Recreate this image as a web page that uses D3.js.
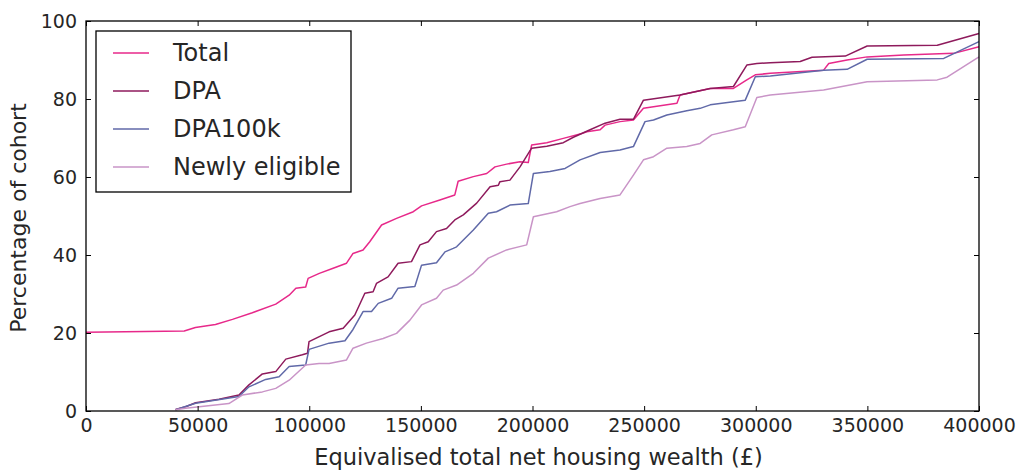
<!DOCTYPE html>
<html>
<head>
<meta charset="utf-8">
<script src="https://cdn.jsdelivr.net/npm/d3@7"></script>
<style>
  body { margin: 0; background: #fff; }
  text { font-family: "DejaVu Sans", sans-serif; fill: #262626; }
</style>
</head>
<body>
<div class="chart"></div>
<script>
// series values: [wealth (£), % of cohort]
var total = [[0,20.2],[44000,20.5],[49000,21.4],[58000,22.2],[65600,23.5],[74500,25.2],[85000,27.4],
    [91000,29.7],[94000,31.5],[98400,31.8],[99500,34.0],[104500,35.3],[110700,36.6],[116700,37.9],
    [119600,40.4],[124100,41.3],[127100,43.4],[132400,47.7],[139100,49.4],[146600,51.1],[150300,52.6],
    [158500,54.1],[165200,55.4],[166700,58.9],[173500,60.1],[179500,60.9],[183200,62.6],[188400,63.3],
    [194400,63.9],[198100,63.7],[199600,68.2],[206400,68.8],[213800,69.9],[221300,71.0],[224300,71.6],
    [230300,72.1],[232500,73.3],[239200,74.2],[245200,74.6],[249700,77.6],[264700,78.9],[266100,81.0],
    [279600,82.7],[290000,82.7],[296000,84.9],[299800,86.2],[306500,86.6],[330400,87.4],[332700,89.1],
    [340900,90.0],[349900,90.8],[366300,91.3],[388700,91.7],[400000,93.4]];

var dpa = [[40100,0.4],[44600,1.1],[49100,2.1],[59600,3.0],[68500,4.1],[73000,6.7],[79000,9.5],
    [85000,10.1],[89500,13.3],[96900,14.4],[99200,14.8],[99900,17.8],[108900,20.3],[115200,21.2],
    [120400,24.6],[124900,30.2],[128600,30.6],[130100,32.7],[135300,34.4],[139800,37.9],[145800,38.3],
    [149600,42.6],[153300,43.4],[157000,46.0],[161500,46.8],[165200,49.0],[169000,50.3],[175000,53.3],
    [181000,57.5],[184700,57.9],[185400,58.8],[189900,59.2],[194400,62.6],[199600,67.4],[206400,67.9],
    [213800,68.8],[218300,70.2],[225800,72.1],[232500,73.8],[239200,74.8],[245200,74.8],[249700,79.7],
    [266100,81.0],[279600,82.7],[290000,83.2],[296000,88.7],[300500,89.1],[306500,89.3],[319900,89.6],
    [325200,90.7],[340100,91.0],[349900,93.6],[381300,93.8],[400000,96.8]];

var dpa100k = [[40100,0.3],[49100,2.0],[68500,3.7],[73000,6.2],[80500,8.1],[86500,8.8],[91000,11.4],
    [98400,11.8],[99900,15.8],[108900,17.4],[116000,18.0],[119600,20.9],[124100,25.5],[127900,25.5],
    [130900,27.6],[136900,28.9],[139800,31.5],[147300,31.9],[150300,37.4],[157000,38.0],[160800,40.8],
    [164500,41.7],[166000,42.1],[173500,46.4],[180200,50.7],[183900,51.1],[189900,52.8],[198100,53.2],
    [200400,60.9],[207800,61.4],[214600,62.2],[221300,64.4],[230300,66.3],[239200,66.9],[245200,67.8],
    [250400,74.2],[254200,74.6],[260200,75.9],[269100,77.0],[275100,77.6],[279600,78.5],[290000,79.3],
    [295300,79.7],[299800,85.7],[306500,85.9],[330400,87.4],[340900,87.6],[349900,90.2],[384200,90.4],
    [400000,94.7]];

var newlyEligible = [[40100,0.3],[44600,0.7],[64000,1.9],[70000,4.1],[79000,4.9],[85000,5.8],
    [91000,7.9],[98400,11.8],[104400,12.2],[108900,12.2],[116700,13.1],[119600,16.1],[125600,17.4],
    [133100,18.6],[139100,19.9],[145100,23.3],[150300,27.2],[157000,28.9],[160000,31.0],[166000,32.3],
    [173500,35.3],[180200,39.2],[188400,41.3],[197400,42.6],[200400,49.8],[210800,51.1],[216800,52.4],
    [221300,53.2],[230300,54.5],[239200,55.4],[245200,60.5],[249700,64.4],[254200,65.2],[260200,67.4],
    [269100,67.8],[275100,68.6],[280300,70.8],[290000,72.1],[295300,72.9],[300500,80.4],[306500,81.0],
    [330400,82.3],[349900,84.4],[381300,84.9],[385700,85.6],[400000,90.8]];

var seriesNames = ['Total', 'DPA', 'DPA100k', 'Newly eligible'];
var seriesData = [total, dpa, dpa100k, newlyEligible];
var seriesColours = ['#e7298a', '#8e1a5c', '#6069a8', '#c994c7'];

var xTicks = [0, 50000, 100000, 150000, 200000, 250000, 300000, 350000, 400000];
var yTicks = [0, 20, 40, 60, 80, 100];

var width = 1019,
    height = 471;
var margin = { top: 21, right: 40, bottom: 60, left: 86 };

var svg = d3.select('.chart')
    .append('svg')
    .attr('width', width)
    .attr('height', height);

var x = d3.scaleLinear()
    .domain([0, 400000])
    .range([margin.left, width - margin.right]);

var y = d3.scaleLinear()
    .domain([0, 100])
    .range([height - margin.bottom, margin.top]);

var line = d3.line()
    .x(function(d) { return x(d[0]); })
    .y(function(d) { return y(d[1]); });

// lines (drawn in legend order, total first)
svg.append('g')
    .selectAll('path')
    .data(seriesData)
    .enter()
    .append('path')
    .attr('d', line)
    .attr('fill', 'none')
    .attr('stroke', function(d, i) { return seriesColours[i]; })
    .attr('stroke-width', 1.5)
    .attr('stroke-linejoin', 'round');

// axes - matplotlib classic style, ticks point inwards on all four sides
var tickLen = 5;
svg.append('g')
    .attr('transform', 'translate(0,' + y(0) + ')')
    .call(d3.axisBottom(x).tickValues(xTicks).tickFormat(d3.format('d')).tickSizeInner(-tickLen).tickSizeOuter(0).tickPadding(8));
svg.append('g')
    .attr('transform', 'translate(0,' + y(100) + ')')
    .call(d3.axisTop(x).tickValues(xTicks).tickFormat('').tickSizeInner(-tickLen).tickSizeOuter(0));
svg.append('g')
    .attr('transform', 'translate(' + x(0) + ',0)')
    .call(d3.axisLeft(y).tickValues(yTicks).tickFormat(d3.format('d')).tickSizeInner(-tickLen).tickSizeOuter(0).tickPadding(9));
svg.append('g')
    .attr('transform', 'translate(' + x(400000) + ',0)')
    .call(d3.axisRight(y).tickValues(yTicks).tickFormat('').tickSizeInner(-tickLen).tickSizeOuter(0));

svg.selectAll('.domain').remove();
svg.selectAll('.tick line').attr('stroke', '#000');
svg.selectAll('.tick text').style('font-size', '19px').attr('fill', '#262626');

// plot frame
svg.append('rect')
    .attr('x', x(0))
    .attr('y', y(100))
    .attr('width', x(400000) - x(0))
    .attr('height', y(0) - y(100))
    .attr('fill', 'none')
    .attr('stroke', '#000')
    .attr('stroke-width', 1.3);

// axis labels
svg.append('text')
    .attr('x', (x(0) + x(400000)) / 2 + 6)
    .attr('y', height - 6)
    .attr('text-anchor', 'middle')
    .style('font-size', '22.5px')
    .text('Equivalised total net housing wealth (£)');

svg.append('text')
    .attr('transform', 'translate(26,' + (y(50) + 2) + ') rotate(-90)')
    .attr('text-anchor', 'middle')
    .style('font-size', '22px')
    .text('Percentage of cohort');

// legend
var legend = svg.append('g').attr('transform', 'translate(96,31)');
legend.append('rect')
    .attr('width', 255)
    .attr('height', 161)
    .attr('fill', '#fff')
    .attr('stroke', '#000')
    .attr('stroke-width', 1.3);

var item = legend.selectAll('g.item')
    .data(seriesNames)
    .enter()
    .append('g')
    .attr('class', 'item')
    .attr('transform', function(d, i) { return 'translate(0,' + (22 + i * 38) + ')'; });

item.append('line')
    .attr('x1', 17).attr('x2', 53)
    .attr('stroke', function(d, i) { return seriesColours[i]; })
    .attr('stroke-width', 1.5);

item.append('text')
    .attr('x', 77)
    .attr('dy', '0.35em')
    .style('font-size', '24px')
    .text(function(d) { return d; });
</script>
</body>
</html>
